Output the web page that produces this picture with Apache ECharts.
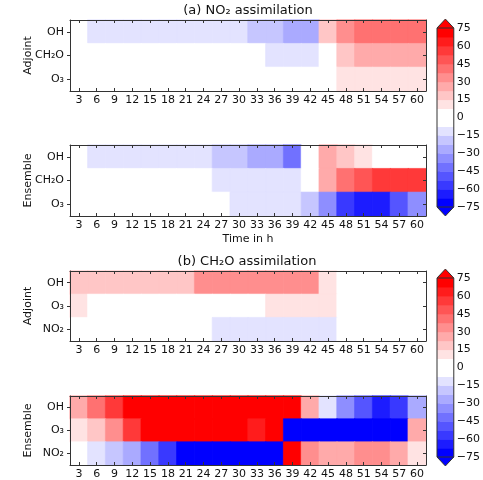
<!DOCTYPE html>
<html><head><meta charset="utf-8">
<script src="https://cdn.jsdelivr.net/npm/echarts@6/dist/echarts.min.js"></script>
<style>html,body{margin:0;padding:0;background:#fff}#c{width:483px;height:480px}</style>
</head><body><div id="c"></div>
<script>
const hours = [3,6,9,12,15,18,21,24,27,30,33,36,39,42,45,48,51,54,57,60];
const rowsA = ['OH','CH₂O','O₃'];
const rowsB = ['OH','O₃','NO₂'];
const cbTicks = [-75,-60,-45,-30,-15,0,15,30,45,60,75];
const cbLevels = [-75,-67.5,-60,-52.5,-45,-37.5,-30,-22.5,-15,-7.5,7.5,15,22.5,30,37.5,45,52.5,60,67.5,75];

// (a) NO2 assimilation - Adjoint
const adjNO2_OH   = [0,-11,-11,-11,-11,-11,-11,-11,-11,-11,-19,-19,-26,-26,19,34,41,41,41,41];
const adjNO2_CH2O = [0,0,0,0,0,0,0,0,0,0,0,-11,-11,-11,0,19,26,26,26,26];
const adjNO2_O3   = [0,0,0,0,0,0,0,0,0,0,0,0,0,0,0,11,11,11,11,11];
// (a) NO2 assimilation - Ensemble
const ensNO2_OH   = [0,-11,-11,-11,-11,-11,-11,-11,-19,-19,-26,-26,-41,0,26,19,11,0,0,0];
const ensNO2_CH2O = [0,0,0,0,0,0,0,0,-11,-11,-11,-11,-11,0,26,41,49,56,56,56];
const ensNO2_O3   = [0,0,0,0,0,0,0,0,0,-11,-11,-11,-11,-19,-34,-56,-64,-64,-49,-34];
// (b) CH2O assimilation - Adjoint
const adjCH2O_OH  = [19,19,19,19,19,19,19,34,34,34,34,34,34,34,11,0,0,0,0,0];
const adjCH2O_O3  = [11,0,0,0,0,0,0,0,0,0,0,11,11,11,11,0,0,0,0,0];
const adjCH2O_NO2 = [0,0,0,0,0,0,0,0,-11,-11,-11,-11,-11,-11,-11,0,0,0,0,0];
// (b) CH2O assimilation - Ensemble
const ensCH2O_OH  = [26,41,56,71,71,71,71,71,71,71,71,71,71,26,-11,-34,-49,-64,-56,-26];
const ensCH2O_O3  = [11,19,34,56,71,71,71,71,71,71,64,71,-71,-71,-71,-71,-71,-71,-71,26];
const ensCH2O_NO2 = [0,-11,-19,-26,-41,-56,-71,-71,-71,-71,-71,-71,71,34,26,26,34,34,26,11];

const panels = [
  {rows: rowsA, data: [adjNO2_OH, adjNO2_CH2O, adjNO2_O3], name: 'Adjoint', top: 20, height: 71},
  {rows: rowsA, data: [ensNO2_OH, ensNO2_CH2O, ensNO2_O3], name: 'Ensemble', top: 145, height: 71, xname: 'Time in h'},
  {rows: rowsB, data: [adjCH2O_OH, adjCH2O_O3, adjCH2O_NO2], name: 'Adjoint', top: 271, height: 70},
  {rows: rowsB, data: [ensCH2O_OH, ensCH2O_O3, ensCH2O_NO2], name: 'Ensemble', top: 396, height: 70}
];
const cbars = [{top: 28, height: 179}, {top: 278, height: 179}];

function bandColor(v) {
  const k = Math.min(9, Math.floor(Math.abs(v) / 7.5));
  const c = Math.round(255 * (1 - k / 9));
  return v >= 0 ? `rgb(255,${c},${c})` : `rgb(${c},${c},255)`;
}
const bands = [];
for (let i = 0; i < cbLevels.length - 1; i++) bands.push([cbLevels[i], cbLevels[i + 1]]);

const FONT = 'DejaVu Sans';
const TXT = '#111';
const LINE = {lineStyle: {color: '#333', width: 1}};
const grid = [], xAxis = [], yAxis = [], series = [];

panels.forEach((p, i) => {
  grid.push({left: 70, width: 356, top: p.top, height: p.height});
  xAxis.push({
    type: 'category', gridIndex: i, data: hours, position: 'bottom', z: 10,
    axisLine: {show: true, ...LINE},
    axisTick: {show: true, inside: true, length: 3, alignWithLabel: true, interval: 0, ...LINE},
    axisLabel: {fontSize: 11, color: TXT, margin: 4, interval: 0, fontFamily: FONT},
    name: p.xname || '', nameLocation: 'middle', nameGap: 18, nameMoveOverlap: false,
    nameTextStyle: {fontSize: 11, color: TXT, fontFamily: FONT}
  });
  xAxis.push({
    type: 'category', gridIndex: i, data: hours, position: 'top', z: 10,
    axisLine: {show: true, ...LINE},
    axisTick: {show: true, inside: true, length: 3, alignWithLabel: true, interval: 0, ...LINE},
    axisLabel: {show: false}
  });
  yAxis.push({
    type: 'category', gridIndex: i, data: p.rows, inverse: true, position: 'left', z: 10,
    axisLine: {show: true, ...LINE},
    axisTick: {show: true, inside: false, length: 3, alignWithLabel: true, ...LINE},
    axisLabel: {fontSize: 11, color: TXT, margin: 6, fontFamily: FONT},
    name: p.name, nameLocation: 'middle', nameGap: 36, nameRotate: 90, nameMoveOverlap: false,
    nameTextStyle: {fontSize: 11, color: TXT, fontFamily: FONT}
  });
  yAxis.push({
    type: 'category', gridIndex: i, data: p.rows, inverse: true, position: 'right', z: 10,
    axisLine: {show: true, ...LINE},
    axisTick: {show: true, inside: true, length: 3, alignWithLabel: true, ...LINE},
    axisLabel: {show: false}
  });
  const d = [];
  p.data.forEach((row, r) => row.forEach((v, c) => {
    const col = bandColor(v);
    d.push({value: [c, r, v], itemStyle: {color: col, borderColor: col, borderWidth: 0.6}});
  }));
  series.push({
    type: 'heatmap', xAxisIndex: 2 * i, yAxisIndex: 2 * i, data: d,
    emphasis: {disabled: true}, progressive: 0
  });
});

cbars.forEach((cb, j) => {
  const gi = panels.length + j;
  grid.push({left: 437, width: 22, top: cb.top, height: cb.height});
  xAxis.push({type: 'value', gridIndex: gi, min: 0, max: 1, show: false});
  yAxis.push({
    type: 'value', gridIndex: gi, min: -75, max: 75, interval: 15, position: 'right',
    splitLine: {show: false}, axisLine: {show: false},
    axisTick: {show: true, inside: false, length: 3, ...LINE},
    axisLabel: {fontSize: 11, color: TXT, margin: 3, fontFamily: FONT,
      formatter: v => (v < 0 ? '\u2212' + Math.abs(v) : String(v))}
  });
  const xi = xAxis.length - 1, yi = yAxis.length - 1;
  series.push({
    type: 'custom', xAxisIndex: xi, yAxisIndex: yi, clip: false, silent: true,
    data: bands,
    renderItem: (params, api) => {
      const lo = api.value(0), hi = api.value(1);
      const a = api.coord([0, hi]), b = api.coord([1, lo]);
      return {type: 'rect', shape: {x: a[0], y: a[1], width: b[0] - a[0], height: b[1] - a[1] + 0.5},
        style: {fill: bandColor((lo + hi) / 2)}};
    }
  });
  series.push({
    type: 'custom', xAxisIndex: xi, yAxisIndex: yi, clip: false, silent: true,
    data: [[75, 82.5], [-75, -82.5]],
    renderItem: (params, api) => {
      const base = api.value(0), tip = api.value(1);
      return {type: 'polygon', shape: {points: [api.coord([0, base]), api.coord([1, base]), api.coord([0.5, tip])]},
        style: {fill: bandColor(tip), stroke: '#333', lineWidth: 1}};
    }
  });
  series.push({
    type: 'custom', xAxisIndex: xi, yAxisIndex: yi, clip: false, silent: true, z: 5,
    data: [[-75, 75, 0], [-75, 75, 1]],
    renderItem: (params, api) => {
      const lo = api.value(0), hi = api.value(1), side = api.value(2);
      return {type: 'polyline', shape: {points: [api.coord([side, hi]), api.coord([side, lo])]},
        style: {stroke: '#333', lineWidth: 1, fill: null}};
    }
  });
});

const chart = echarts.init(document.getElementById('c'), null, {renderer: 'canvas'});
chart.setOption({
  animation: false,
  backgroundColor: '#fff',
  textStyle: {fontFamily: FONT},
  grid, xAxis, yAxis,
  graphic: [
    {type: 'text', x: 248, y: 11, style: {text: '(a) NO₂ assimilation', fontSize: 13, fontFamily: FONT, fill: TXT, align: 'center', verticalAlign: 'middle'}},
    {type: 'text', x: 247, y: 262, style: {text: '(b) CH₂O assimilation', fontSize: 13, fontFamily: FONT, fill: TXT, align: 'center', verticalAlign: 'middle'}}
  ],
  series
});
</script>
</body></html>
